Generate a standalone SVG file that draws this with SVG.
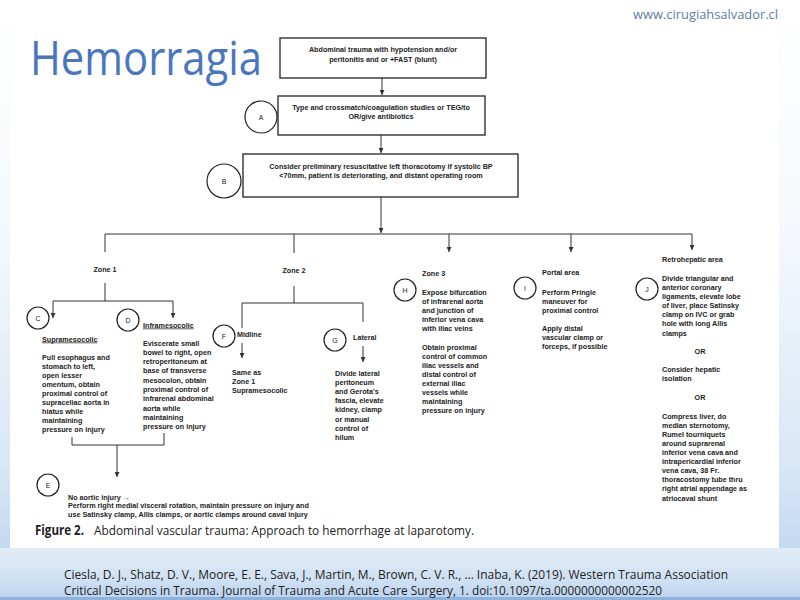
<svg xmlns="http://www.w3.org/2000/svg" width="800" height="600" viewBox="0 0 800 600">
<defs>
<linearGradient id="bg" x1="0" y1="0" x2="0" y2="1">
<stop offset="0" stop-color="#ffffff"/>
<stop offset="0.4" stop-color="#f4f8fc"/>
<stop offset="0.8" stop-color="#d6e5f5"/>
<stop offset="1" stop-color="#b4cfee"/>
</linearGradient>
<linearGradient id="band" x1="0" y1="0" x2="0" y2="1">
<stop offset="0" stop-color="#e2ecf7"/>
<stop offset="0.6" stop-color="#d0e1f3"/>
<stop offset="1" stop-color="#b9d2ee"/>
</linearGradient>
<marker id="ah" viewBox="0 0 6 6" refX="6" refY="3" markerWidth="5" markerHeight="5" orient="auto" markerUnits="userSpaceOnUse">
<path d="M0,0 L6,3 L0,6 z" fill="#333"/>
</marker>
<style>
.t{font-family:"Liberation Sans",Arial,sans-serif;font-size:7.2px;font-weight:bold;fill:#222}
.m{text-anchor:middle}
.box{fill:#fff;stroke:#222;stroke-width:1.3}
.c{fill:#fff;stroke:#222;stroke-width:1.2}
.ct{font-family:"Liberation Sans",Arial,sans-serif;font-size:7px;fill:#222;text-anchor:middle}
.ln{fill:none;stroke:#333;stroke-width:1}
.ar{fill:none;stroke:#333;stroke-width:1;marker-end:url(#ah)}
.cap{font-family:"Open Sans",sans-serif;font-size:13.5px;fill:#222}
.cit{font-family:"Open Sans",sans-serif;font-size:12.5px;fill:#222}
</style>
</defs>
<rect x="0" y="0" width="800" height="600" fill="url(#bg)"/>
<rect x="10" y="0" width="769" height="548" fill="#fff"/>
<rect x="0" y="548" width="800" height="52" fill="url(#band)"/>
<rect x="0" y="597" width="800" height="3" fill="#8fb2dc"/>

<text x="778" y="19" text-anchor="end" font-family="'Open Sans',sans-serif" font-size="12" fill="#5a7ea6" textLength="145" lengthAdjust="spacingAndGlyphs">www.cirugiahsalvador.cl</text>
<text x="30" y="75" font-family="'Open Sans',sans-serif" font-size="48" fill="#4a76bd" textLength="232" lengthAdjust="spacingAndGlyphs">Hemorragia</text>

<g id="connectors">
<path class="ar" d="M382,78 V95"/>
<path class="ar" d="M381,135 V153"/>
<path class="ar" d="M381,197 V233"/>
<path class="ln" d="M105,252 V234 H692"/>
<path class="ln" d="M294,234 V253"/>
<path class="ar" d="M449,234 V252"/>
<path class="ar" d="M571,234 V252"/>
<path class="ar" d="M692,234 V250"/>
<path class="ln" d="M105,283 V301"/>
<path class="ar" d="M53,301 V318"/>
<path class="ar" d="M173,301 V318"/>
<path class="ln" d="M53,301 H173"/>
<path class="ln" d="M294,286 V303"/>
<path class="ln" d="M242,328 V303 H363 V322"/>
<path class="ar" d="M242,343 V358"/>
<path class="ar" d="M363,346 V362"/>
<path class="ln" d="M72,437 V445 H164 V433"/>
<path class="ar" d="M117,445 V477"/>
</g>

<g id="n1">
<rect class="box" x="280" y="38" width="206" height="40"/>
<text class="t m" x="383" y="52">Abdominal trauma with hypotension and/or</text>
<text class="t m" x="383" y="61.5">peritonitis and or +FAST (blunt)</text>
</g>
<g id="nA">
<rect class="box" x="278" y="96" width="207" height="39"/>
<text class="t m" x="381" y="109.5">Type and crossmatch/coagulation studies or TEG/to</text>
<text class="t m" x="381" y="119">OR/give antibiotics</text>
<circle class="c" cx="261" cy="117" r="16"/>
<text class="ct" x="261" y="119.5">A</text>
</g>
<g id="nB">
<rect class="box" x="243" y="154" width="275" height="43"/>
<text class="t m" x="381" y="168.5">Consider preliminary resuscitative left thoracotomy if systolic BP</text>
<text class="t m" x="381" y="177.5">&lt;70mm, patient is deteriorating, and distant operating room</text>
<circle class="c" cx="224" cy="181" r="17"/>
<text class="ct" x="224" y="183.5">B</text>
</g>

<g id="zone1">
<text class="t m" x="105" y="271.5">Zone 1</text>
</g>
<g id="zone2">
<text class="t m" x="294" y="272.5">Zone 2</text>
</g>

<g id="nC">
<circle class="c" cx="38" cy="318" r="11"/>
<text class="ct" x="38" y="320.5">C</text>
<text class="t" x="42" y="341.5" text-decoration="underline">Supramesocolic</text>
<text class="t" x="42" y="359.5">Pull esophagus and</text>
<text class="t" x="42" y="368.6">stomach to left,</text>
<text class="t" x="42" y="377.7">open lesser</text>
<text class="t" x="42" y="386.8">omentum, obtain</text>
<text class="t" x="42" y="395.9">proximal control of</text>
<text class="t" x="42" y="405">supraceliac aorta in</text>
<text class="t" x="42" y="414.1">hiatus while</text>
<text class="t" x="42" y="423.2">maintaining</text>
<text class="t" x="42" y="432.3">pressure on injury</text>
</g>
<g id="nD">
<circle class="c" cx="128" cy="320" r="11"/>
<text class="ct" x="128" y="322.5">D</text>
<text class="t" x="143" y="327.5" text-decoration="underline">Inframesocolic</text>
<text class="t" x="143" y="345.5">Eviscerate small</text>
<text class="t" x="143" y="354.8">bowel to right, open</text>
<text class="t" x="143" y="364.1">retroperitoneum at</text>
<text class="t" x="143" y="373.4">base of transverse</text>
<text class="t" x="143" y="382.7">mesocolon, obtain</text>
<text class="t" x="143" y="392">proximal control of</text>
<text class="t" x="143" y="401.3">infrarenal abdominal</text>
<text class="t" x="143" y="410.6">aorta while</text>
<text class="t" x="143" y="419.9">maintaining</text>
<text class="t" x="143" y="429.2">pressure on injury</text>
</g>
<g id="nE">
<circle class="c" cx="48" cy="485" r="11"/>
<text class="ct" x="48" y="487.5">E</text>
<text class="t" x="68" y="499.5">No aortic injury →</text>
<text class="t" x="68" y="508">Perform right medial visceral rotation, maintain pressure on injury and</text>
<text class="t" x="68" y="517">use Satinsky clamp, Allis clamps, or aortic clamps around caval injury</text>
</g>
<g id="nF">
<circle class="c" cx="224" cy="336" r="11"/>
<text class="ct" x="224" y="338.5">F</text>
<text class="t" x="237" y="336.5">Midline</text>
<text class="t" x="232" y="374.5">Same as</text>
<text class="t" x="232" y="383.5">Zone 1</text>
<text class="t" x="232" y="392.5">Supramesocolic</text>
</g>
<g id="nG">
<circle class="c" cx="335" cy="340" r="11"/>
<text class="ct" x="335" y="342.5">G</text>
<text class="t" x="353" y="339.5">Lateral</text>
<text class="t" x="335" y="375.5">Divide lateral</text>
<text class="t" x="335" y="384.7">peritoneum</text>
<text class="t" x="335" y="393.9">and Gerota's</text>
<text class="t" x="335" y="403.1">fascia, elevate</text>
<text class="t" x="335" y="412.3">kidney, clamp</text>
<text class="t" x="335" y="421.5">or manual</text>
<text class="t" x="335" y="430.7">control of</text>
<text class="t" x="335" y="439.9">hilum</text>
</g>
<g id="nH">
<text class="t" x="422" y="275.5">Zone 3</text>
<circle class="c" cx="405" cy="290" r="11"/>
<text class="ct" x="405" y="292.5">H</text>
<text class="t" x="422" y="294.5">Expose bifurcation</text>
<text class="t" x="422" y="303.5">of infrarenal aorta</text>
<text class="t" x="422" y="312.5">and junction of</text>
<text class="t" x="422" y="321.5">inferior vena cava</text>
<text class="t" x="422" y="330.5">with iliac veins</text>
<text class="t" x="422" y="349.5">Obtain proximal</text>
<text class="t" x="422" y="358.6">control of common</text>
<text class="t" x="422" y="367.7">iliac vessels and</text>
<text class="t" x="422" y="376.8">distal control of</text>
<text class="t" x="422" y="385.9">external iliac</text>
<text class="t" x="422" y="395">vessels while</text>
<text class="t" x="422" y="404.1">maintaining</text>
<text class="t" x="422" y="413.2">pressure on injury</text>
</g>
<g id="nI">
<text class="t" x="542" y="274.5">Portal area</text>
<circle class="c" cx="525" cy="288" r="11"/>
<text class="ct" x="525" y="290.5">I</text>
<text class="t" x="542" y="294.5">Perform Pringle</text>
<text class="t" x="542" y="303.5">maneuver for</text>
<text class="t" x="542" y="312.5">proximal control</text>
<text class="t" x="542" y="330.5">Apply distal</text>
<text class="t" x="542" y="339.5">vascular clamp or</text>
<text class="t" x="542" y="348.5">forceps, if possible</text>
</g>
<g id="nJ">
<text class="t" x="662" y="261.5">Retrohepatic area</text>
<circle class="c" cx="647" cy="289" r="11"/>
<text class="ct" x="647" y="291.5">J</text>
<text class="t" x="662" y="280.5">Divide triangular and</text>
<text class="t" x="662" y="289.7">anterior coronary</text>
<text class="t" x="662" y="298.8">ligaments, elevate lobe</text>
<text class="t" x="662" y="308">of liver, place Satinsky</text>
<text class="t" x="662" y="317.2">clamp  on IVC or grab</text>
<text class="t" x="662" y="326.3">hole with long Allis</text>
<text class="t" x="662" y="335.5">clamps</text>
<text class="t m" x="700" y="353.5">OR</text>
<text class="t" x="662" y="371.5">Consider hepatic</text>
<text class="t" x="662" y="380.5">isolation</text>
<text class="t m" x="700" y="399.5">OR</text>
<text class="t" x="662" y="418.5">Compress liver, do</text>
<text class="t" x="662" y="427.6">median sternotomy,</text>
<text class="t" x="662" y="436.7">Rumel tourniquets</text>
<text class="t" x="662" y="445.8">around suprarenal</text>
<text class="t" x="662" y="454.9">inferior vena cava and</text>
<text class="t" x="662" y="464">intrapericardial inferior</text>
<text class="t" x="662" y="473.2">vena cava, 38 Fr.</text>
<text class="t" x="662" y="482.3">thoracostomy tube thru</text>
<text class="t" x="662" y="491.4">right atrial appendage as</text>
<text class="t" x="662" y="500.5">atriocaval shunt</text>
</g>

<text class="cap" x="35" y="535" font-weight="bold" textLength="49" lengthAdjust="spacingAndGlyphs">Figure 2.</text>
<text class="cap" x="94" y="535" textLength="380" lengthAdjust="spacingAndGlyphs">Abdominal vascular trauma: Approach to hemorrhage at laparotomy.</text>

<text class="cit" x="64" y="579" textLength="664" lengthAdjust="spacingAndGlyphs">Ciesla, D. J., Shatz, D. V., Moore, E. E., Sava, J., Martin, M., Brown, C. V. R., … Inaba, K. (2019). Western Trauma Association</text>
<text class="cit" x="64" y="595" textLength="598" lengthAdjust="spacingAndGlyphs">Critical Decisions in Trauma. Journal of Trauma and Acute Care Surgery, 1. doi:10.1097/ta.0000000000002520</text>
</svg>
